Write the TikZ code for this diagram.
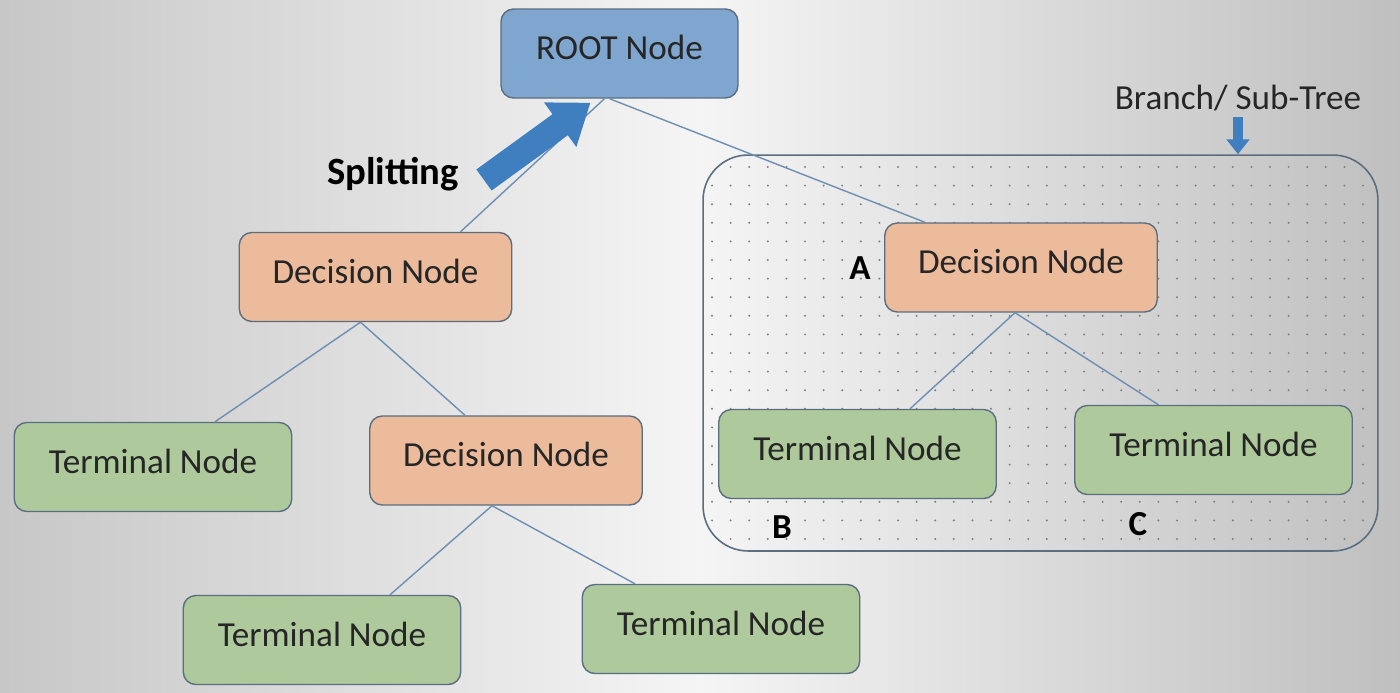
\documentclass[tikz,border=0pt]{standalone}
\usepackage{fontspec}
\setmainfont{Carlito}
\usepackage{xcolor}
\usepackage{tikz}
\usetikzlibrary{arrows.meta}

\definecolor{rootblue}{HTML}{7FA6CE}
\definecolor{decisionorange}{HTML}{EBBB9C}
\definecolor{terminalgreen}{HTML}{AEC99C}
\definecolor{edgeblue}{HTML}{6E8FB2}
\definecolor{boxline}{HTML}{5A6E80}
\definecolor{arrowblue}{HTML}{3F7FC0}

\begin{document}
\begin{tikzpicture}[x=0.02cm, y=-0.02cm]
            \tikzstyle{every node}=[font=\fontsize{20}{24}\selectfont, text=black!85]
            \tikzstyle{treenode}=[draw=boxline, line width=0.8pt, rounded corners=0.25cm, minimum height=1.78cm, text depth=0.24cm]
            \tikzstyle{rootnode}=[treenode, fill=rootblue, minimum width=4.74cm]
            \tikzstyle{decisionnode}=[treenode, fill=decisionorange, minimum width=5.45cm]
            \tikzstyle{terminalnode}=[treenode, fill=terminalgreen, minimum width=5.55cm]
            \tikzstyle{edge}=[draw=edgeblue, line width=0.8pt]
            \tikzstyle{letter}=[font=\fontsize{20}{24}\selectfont\bfseries, text=black]

            % Background
            \useasboundingbox (0,0) rectangle (1400,693);
            \shade[left color=black!22, right color=black!25, middle color=black!4] (0,0) rectangle (1400,693);

            % Branch / Sub-Tree box
            \node[draw=boxline, line width=0.9pt, rounded corners=0.9cm, minimum width=13.5cm, minimum height=7.92cm] (subtree) at (1040.5,353) {};
            \begin{scope}
                \clip[rounded corners=0.9cm] (subtree.south west) rectangle (subtree.north east);
                \foreach \i in {0,...,36}
                    \foreach \j in {0,...,21}
                        \fill[black!50] (712+\i*18.6, 167+\j*18.6) circle (1.1);
            \end{scope}
            \node (branchlabel) at (1238,98) {Branch/ Sub-Tree};
            \coordinate (branchtail) at (1238,117);
            \draw[arrowblue, line width=0.2cm, -{Triangle[width=0.45cm, length=0.3cm]}] (branchtail) -- (branchtail |- subtree.north);

            % Nodes
            \node[rootnode] (root) at (619.5,53.5) {ROOT Node};
            \node[decisionnode] (decL) at (375.5,277) {Decision Node};
            \node[terminalnode] (termL) at (153,467) {Terminal Node};
            \node[decisionnode] (decM) at (506,460.5) {Decision Node};
            \node[terminalnode] (termBL) at (322,640) {Terminal Node};
            \node[terminalnode] (termBR) at (721,629) {Terminal Node};
            \node[decisionnode] (decA) at (1021,267.5) {Decision Node};
            \node[terminalnode] (termB) at (857.5,454) {Terminal Node};
            \node[terminalnode] (termC) at (1213.5,450) {Terminal Node};

            % Edges
            \draw[edge] ([xshift=-0.3cm]root.south) -- ([xshift=1.7cm]decL.north);
            \draw[edge] ([xshift=-0.2cm]root.south) -- ([xshift=-1.92cm]decA.north);
            \draw[edge] ([xshift=-0.3cm]decL.south) -- ([xshift=1.24cm]termL.north);
            \draw[edge] ([xshift=-0.3cm]decL.south) -- ([xshift=-0.82cm]decM.north);
            \draw[edge] ([xshift=-0.28cm]decM.south) -- ([xshift=1.36cm]termBL.north);
            \draw[edge] ([xshift=-0.28cm]decM.south) -- ([xshift=-1.72cm]termBR.north);
            \draw[edge] ([xshift=-0.12cm]decA.south) -- ([xshift=1.05cm]termB.north);
            \draw[edge] ([xshift=-0.12cm]decA.south) -- ([xshift=-1.1cm]termC.north);

            % Splitting
            \node[font=\fontsize{22}{26}\selectfont\bfseries, text=black] (split) at (393,174) {Splitting};
            \coordinate (splittail) at (484,180);
            \draw[arrowblue, line width=0.52cm, -{Triangle[width=1.05cm, length=0.75cm]}] (splittail) -- ([xshift=-0.58cm, yshift=-0.08cm]root.south);

            % Letters
            \node[letter] (labelA) at (860,268) {A};
            \node[letter] (labelB) at (782,527) {B};
            \node[letter] (labelC) at (1138,524) {C};
\end{tikzpicture}
\end{document}
